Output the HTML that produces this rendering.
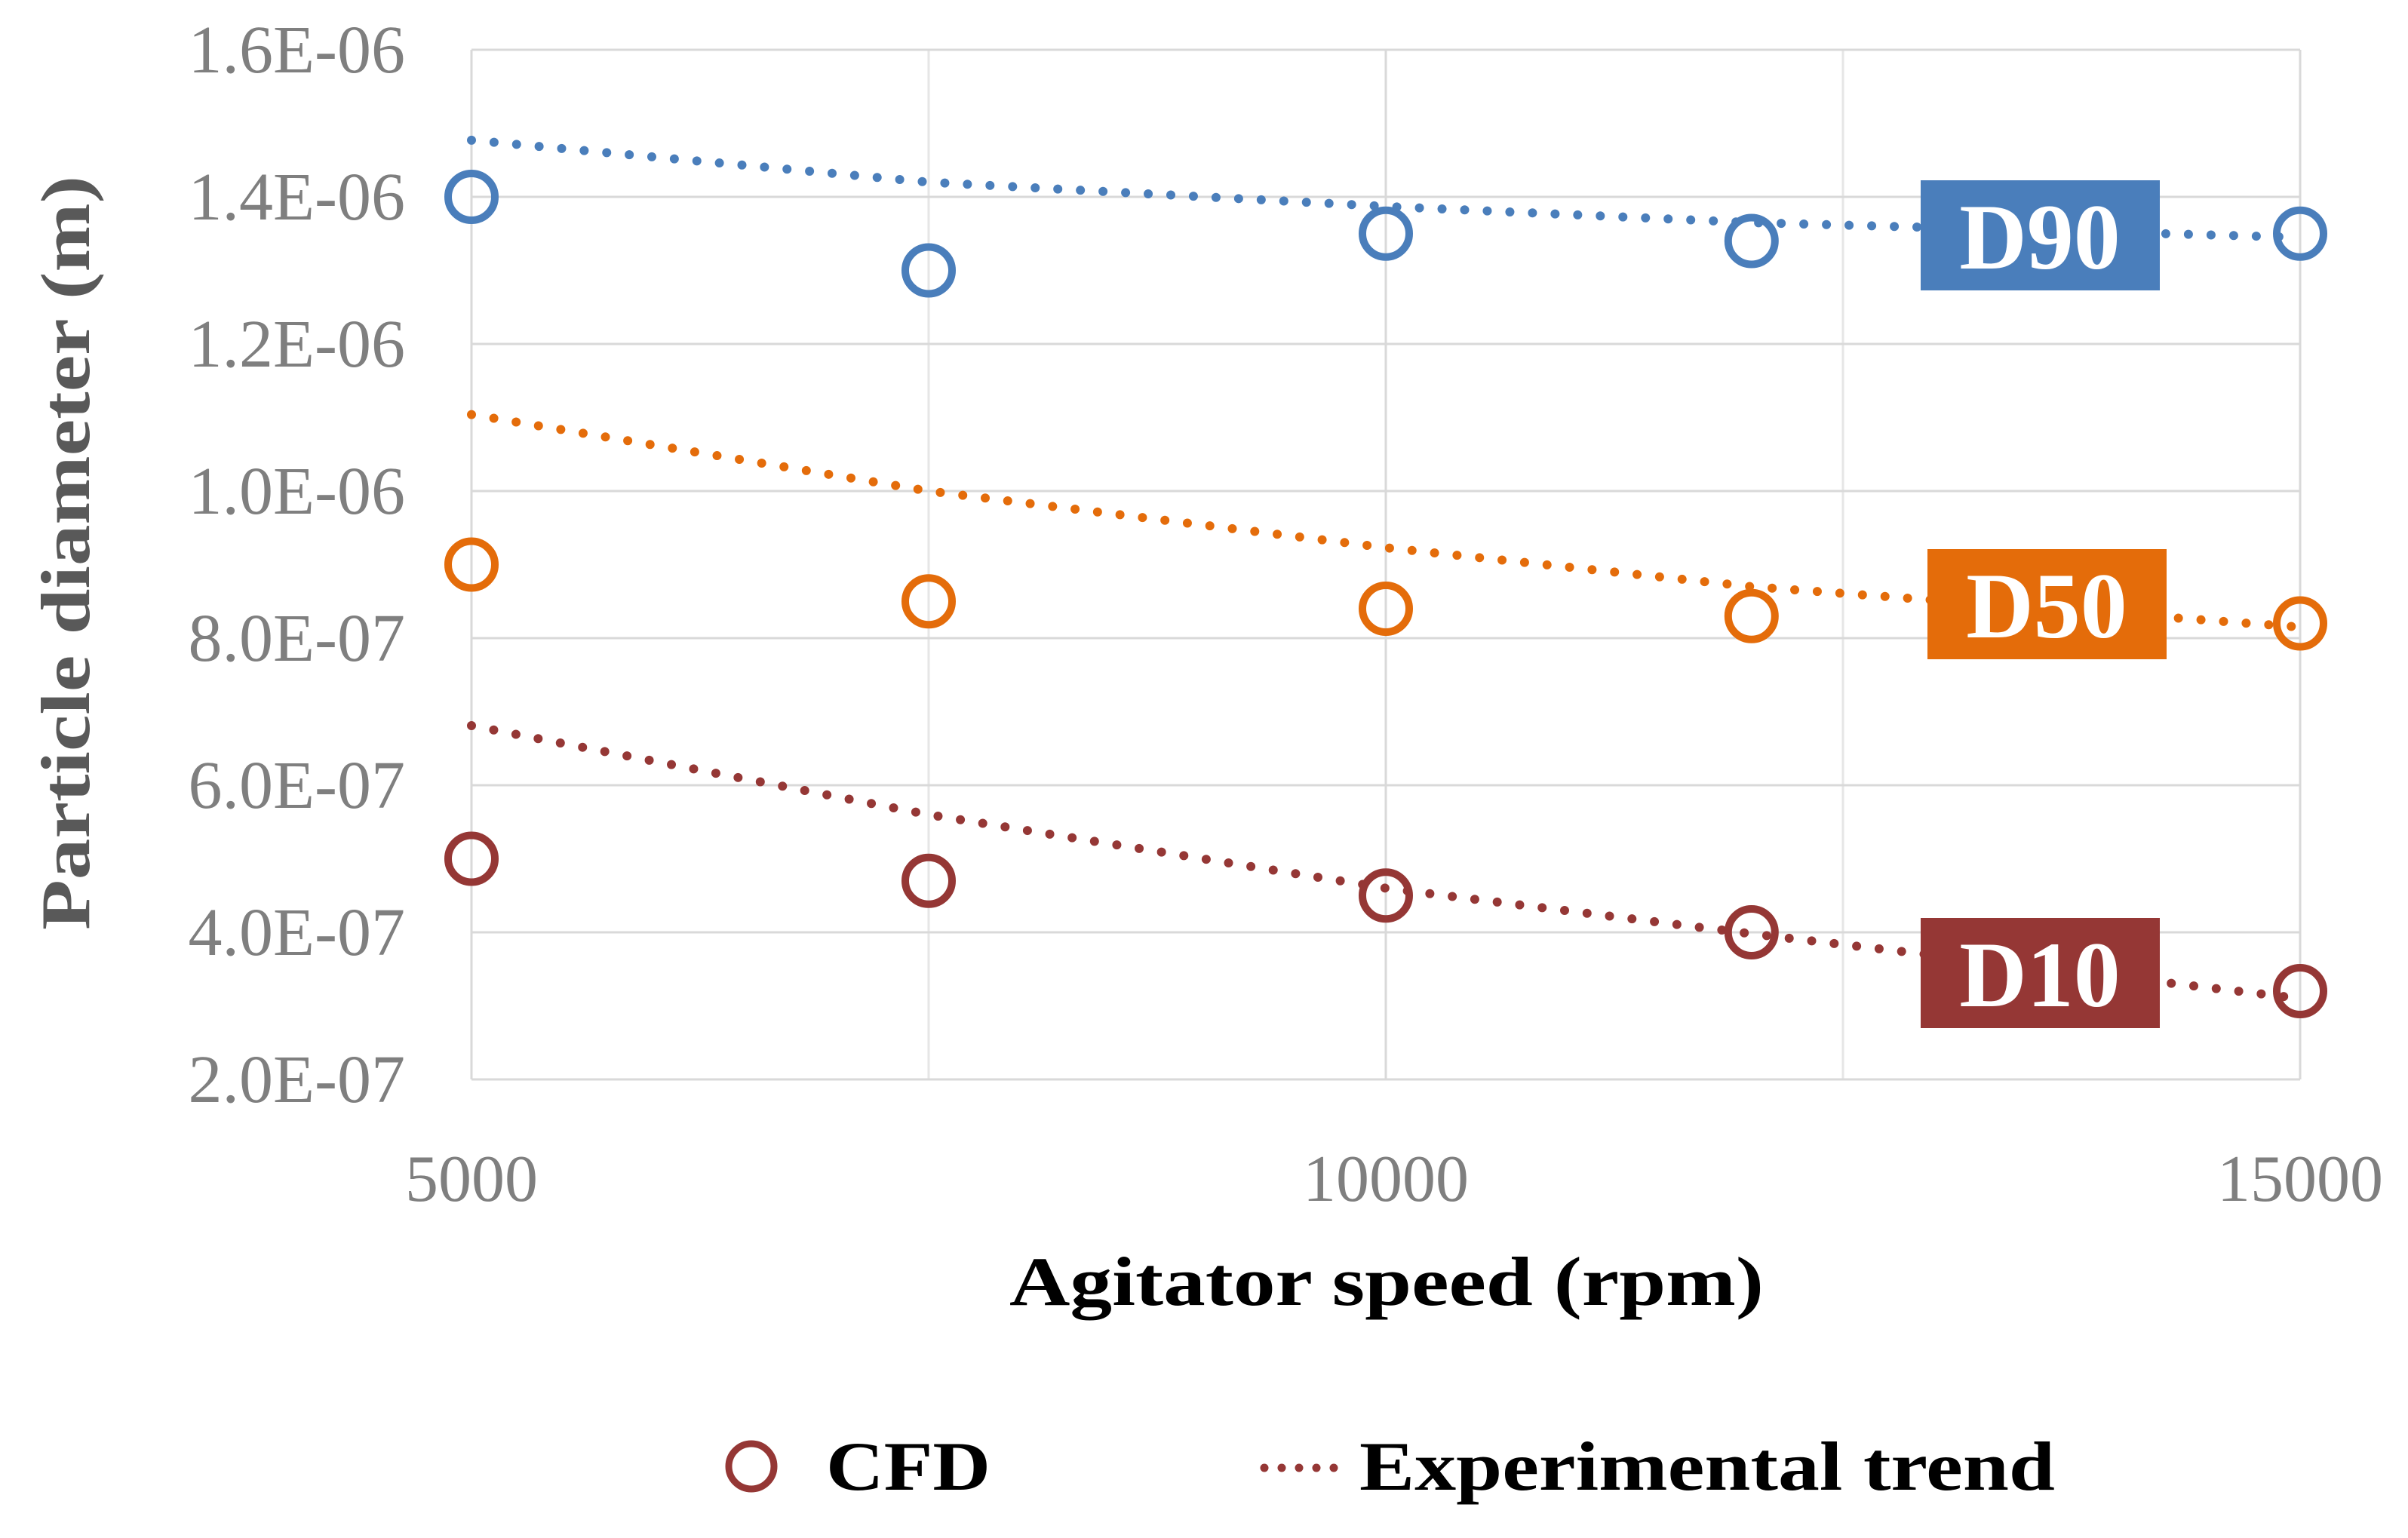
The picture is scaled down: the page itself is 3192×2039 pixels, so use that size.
<!DOCTYPE html>
<html><head><meta charset="utf-8"><style>
html,body{margin:0;padding:0;background:#fff;}
svg{display:block;}
</style></head><body>
<svg id="chart" width="3192" height="2039" viewBox="0 0 3192 2039" xmlns="http://www.w3.org/2000/svg" font-family="'Liberation Serif', serif">
<g id="grid"></g>
<g id="yticks"></g>
<g id="xticks"></g>
<g id="trends"></g>
<g id="points"></g>
<g id="labels"></g>
<text x="0" y="0" transform="translate(118,733) rotate(-90)" text-anchor="middle" font-size="92" font-weight="bold" fill="#595959" textLength="1000" lengthAdjust="spacingAndGlyphs">Particle diameter (m)</text>
<text x="1838" y="1730" text-anchor="middle" font-size="92" font-weight="bold" fill="#000" textLength="1000" lengthAdjust="spacingAndGlyphs">Agitator speed (rpm)</text>
<g>
<g>
<circle cx="996" cy="1944" r="30" fill="none" stroke="#953735" stroke-width="9"/>
<text x="1095" y="1975" font-size="92" font-weight="bold" fill="#000" textLength="218" lengthAdjust="spacingAndGlyphs">CFD</text>
</g>
<g>
<line x1="1676" y1="1946" x2="1790" y2="1946" stroke="#953735" stroke-width="11" stroke-linecap="round" stroke-dasharray="0 23"/>
<text x="1802" y="1975" font-size="92" font-weight="bold" fill="#000" textLength="922" lengthAdjust="spacingAndGlyphs">Experimental trend</text>
</g>
</g>
</svg>
<script>
const xValues = [5000, 7500, 10000, 12000, 15000];
const d90Cfd = [1.40, 1.30, 1.35, 1.34, 1.35];
const d50Cfd = [0.90, 0.85, 0.84, 0.83, 0.82];
const d10Cfd = [0.50, 0.47, 0.45, 0.40, 0.32];
const d90Trend = [1.477, 1.42, 1.387, 1.365, 1.345];
const d50Trend = [1.104, 1.00, 0.923, 0.87, 0.815];
const d10Trend = [0.681, 0.56, 0.46, 0.398, 0.31];
const yTicks = [0.2, 0.4, 0.6, 0.8, 1.0, 1.2, 1.4, 1.6];
const yTickLabels = ["2.0E-07","4.0E-07","6.0E-07","8.0E-07","1.0E-06","1.2E-06","1.4E-06","1.6E-06"];
const xTicks = [5000, 10000, 15000];
const xGrid = [5000, 7500, 10000, 12500, 15000];
const seriesNames = ["D90", "D50", "D10"];

const NS = "http://www.w3.org/2000/svg";
const X0 = 625, X1 = 3049, Y0 = 1431, Y1 = 66;
function xs(v){ return X0 + (v - 5000) / 10000 * (X1 - X0); }
function ys(v){ return Y0 - (v - 0.2) / 1.4 * (Y0 - Y1); }
function mk(tag, attrs, parent){ const e = document.createElementNS(NS, tag); for (const k in attrs) e.setAttribute(k, attrs[k]); parent.appendChild(e); return e; }

const grid = document.getElementById('grid');
xGrid.forEach(v => {
  const minor = (v === 7500 || v === 12500);
  const l = mk('line', {x1: xs(v), x2: xs(v), y1: Y1, y2: Y0, stroke: minor ? '#e6e6e6' : '#d9d9d9', 'stroke-width': 3}, grid);
  
  
});
yTicks.forEach((t, i) => {
  const l = mk('line', {x1: X0, x2: X1, y1: ys(t), y2: ys(t), stroke: '#d9d9d9', 'stroke-width': 3}, grid);
  
  
  const tx = mk('text', {x: 537, y: ys(t) + 30, 'text-anchor': 'end', 'font-size': 90, fill: '#7f7f7f'}, document.getElementById('yticks'));
  tx.textContent = yTickLabels[i];
  
  
});
xTicks.forEach(v => {
  const tx = mk('text', {x: xs(v), y: 1592, 'text-anchor': 'middle', 'font-size': 88, fill: '#7f7f7f'}, document.getElementById('xticks'));
  tx.textContent = String(v);
  
  
});

const colors = ["#4a7ebb", "#e46c0a", "#953735"];
const trends = [d90Trend, d50Trend, d10Trend];
const cfds = [d90Cfd, d50Cfd, d10Cfd];
trends.forEach((s, k) => {
  const pts = s.map((v, i) => xs(xValues[i]) + ',' + ys(v)).join(' ');
  const p = mk('polyline', {points: pts, fill: 'none', stroke: colors[k], 'stroke-width': 12, 'stroke-linecap': 'round', 'stroke-dasharray': '0 30'}, document.getElementById('trends'));
  
  
});
cfds.forEach((s, k) => {
  s.forEach((v, i) => {
    const c = mk('circle', {cx: xs(xValues[i]), cy: ys(v), r: 31, fill: 'none', stroke: colors[k], 'stroke-width': 10}, document.getElementById('points'));
    
    
  });
});
const boxes = [[2546, 239], [2555, 728], [2546, 1217]];
boxes.forEach((b, k) => {
  const g = mk('g', {}, document.getElementById('labels'));
  
  
  mk('rect', {x: b[0], y: b[1], width: 317, height: 146, fill: colors[k]}, g);
  const t = mk('text', {x: b[0] + 158, y: b[1] + 117, 'text-anchor': 'middle', 'font-size': 124, 'font-weight': 'bold', fill: '#fff'}, g);
  t.textContent = seriesNames[k];
});
</script>
</body></html>
